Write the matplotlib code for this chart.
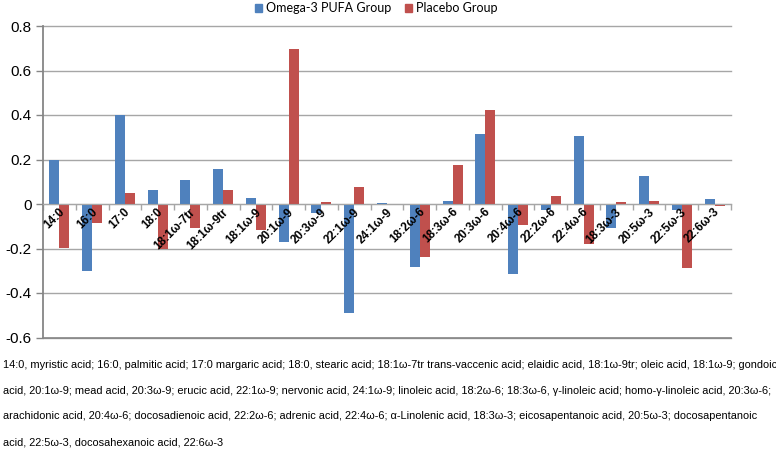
import numpy as np
import matplotlib
matplotlib.use("Agg")
import matplotlib.pyplot as plt
from matplotlib.patches import Patch

plt.rcParams["font.family"] = ["Liberation Sans", "DejaVu Sans"]

labels = ["14:0", "16:0", "17:0", "18:0", "18:1ω-7tr", "18:1ω-9tr", "18:1ω-9",
          "20:1ω-9", "20:3ω-9", "22:1ω-9", "24:1ω-9", "18:2ω-6", "18:3ω-6",
          "20:3ω-6", "20:4ω-6", "22:2ω-6", "22:4ω-6", "18:3ω-3", "20:5ω-3",
          "22:5ω-3", "22:6ω-3"]
omega3 = [0.20, -0.30, 0.40, 0.063, 0.106, 0.156, 0.027, -0.172, -0.042, -0.488,
          0.005, -0.282, 0.013, 0.313, -0.315, -0.027, 0.304, -0.108, 0.126,
          -0.027, 0.021]
placebo = [-0.199, -0.087, 0.048, -0.20, -0.108, 0.063, -0.117, 0.695, 0.008,
           0.075, -0.005, -0.237, 0.175, 0.421, -0.094, 0.036, -0.18, 0.008,
           0.015, -0.289, -0.01]
series_names = ["Omega-3 PUFA Group", "Placebo Group"]
yticks = [-0.6, -0.4, -0.2, 0, 0.2, 0.4, 0.6, 0.8]
ytick_labels = ["-0.6", "-0.4", "-0.2", "0", "0.2", "0.4", "0.6", "0.8"]

caption = [
    "14:0, myristic acid; 16:0, palmitic acid; 17:0 margaric acid; 18:0, stearic acid; "
    "18:1ω-7tr trans-vaccenic acid; elaidic acid, 18:1ω-9tr; oleic acid, 18:1ω-9; gondoic",
    "acid, 20:1ω-9; mead acid, 20:3ω-9; erucic acid, 22:1ω-9; nervonic acid, 24:1ω-9; "
    "linoleic acid, 18:2ω-6; 18:3ω-6, γ-linoleic acid; homo-γ-linoleic acid, 20:3ω-6;",
    "arachidonic acid, 20:4ω-6; docosadienoic acid, 22:2ω-6; adrenic acid, 22:4ω-6; "
    "α-Linolenic acid, 18:3ω-3; eicosapentanoic acid, 20:5ω-3; docosapentanoic",
    "acid, 22:5ω-3, docosahexanoic acid, 22:6ω-3",
]

blue = "#4F81BD"
red = "#C0504D"
W, H = 776, 449

fig = plt.figure(figsize=(W / 100, H / 100), dpi=100)
ax = fig.add_axes([43 / W, (H - 337.5) / H, (731 - 43) / W, (337.5 - 26) / H])

n = len(labels)
x = np.arange(n)
bw = 0.305
ax.bar(x - bw / 2, omega3, bw, color=blue, zorder=3)
ax.bar(x + bw / 2, placebo, bw, color=red, zorder=3)

ax.set_xlim(-0.5, n - 0.5)
ax.set_ylim(-0.6, 0.8)
ax.set_yticks(yticks)
ax.set_yticklabels(ytick_labels, fontsize=11)
ax.tick_params(axis="y", length=5, width=1, color="#868686", pad=3)
for y in yticks:
    ax.axhline(y, color="#A6A6A6", lw=1, zorder=1, clip_on=False)
ax.axhline(-0.6, color="#868686", lw=1.2, zorder=2, clip_on=False)

# category axis drawn at zero
ax.spines["bottom"].set_position(("data", 0))
ax.spines["bottom"].set_color("#A6A6A6")
ax.spines["bottom"].set_zorder(4)
ax.set_xticks(np.arange(n + 1) - 0.5)
ax.set_xticklabels([])
ax.tick_params(axis="x", length=4, width=1, color="#A6A6A6", direction="out")
for s in ["top", "right"]:
    ax.spines[s].set_visible(False)
ax.spines["left"].set_color("#868686")
ax.spines["left"].set_linewidth(1.3)

for i, lab in enumerate(labels):
    ax.text(i + 0.1, -0.028, lab, rotation=45, ha="right", va="center",
            rotation_mode="anchor", fontsize=8.5, fontweight="bold", zorder=5)

handles = [Patch(color=blue), Patch(color=red)]
fig.legend(handles, series_names, loc="center", bbox_to_anchor=(376 / W, 1 - 8 / H),
           ncol=2, frameon=False, handlelength=0.6, handleheight=0.6,
           handletextpad=0.3, columnspacing=1.1, prop={"family": "Lato", "size": 9})

for k, line in enumerate(caption):
    fig.text(3 / W, 1 - (365 + 25.7 * k) / H, line, fontsize=7.9, va="center", ha="left")

fig.savefig("out.png", dpi=100)
